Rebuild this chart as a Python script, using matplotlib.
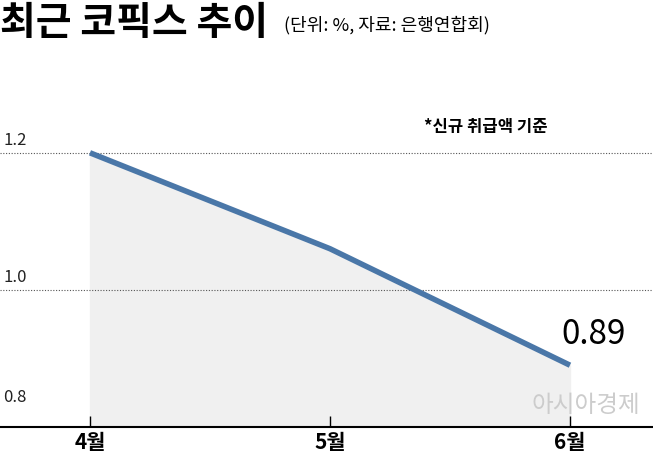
import matplotlib.pyplot as plt

plt.rcParams['font.family'] = ['Noto Sans CJK KR', 'DejaVu Sans']

months = ['4월', '5월', '6월']
rates = [1.20, 1.06, 0.89]
yticks = [0.8, 1.0, 1.2]

fig = plt.figure(figsize=(6.53, 4.63), dpi=100)
ax = fig.add_axes([0, 0.078, 1, 0.663])
x = list(range(len(months)))
ax.set_xlim(-0.375, 2.346)
ax.set_ylim(0.8, 1.248)

ax.fill_between(x, rates, 0.8, color='#f0f0f0', zorder=1)
ax.plot(x, rates, color='#4a77a8', linewidth=4, solid_capstyle='butt', zorder=3)
for v in yticks[1:]:
    ax.axhline(v, color='#555555', linewidth=0.8, linestyle=(0, (1, 1.5)), zorder=2)

for s in ['top', 'right', 'left']:
    ax.spines[s].set_visible(False)
ax.spines['bottom'].set_linewidth(1.5)
ax.set_yticks([])
ax.set_xticks(x)
ax.set_xticklabels(months, fontsize=15, fontweight='bold')
ax.tick_params(axis='x', direction='in', length=8, width=1, pad=4)

for v in yticks:
    ax.text(0.005, v + (0.03 if v == 0.8 else 0.005), f'{v:.1f}', transform=ax.get_yaxis_transform(),
            fontsize=12, va='bottom', ha='left', color='#222222')

ax.text(2.1, rates[-1] + 0.02, f'{rates[-1]:.2f}', fontsize=24, ha='center', va='bottom')
ax.text(0.65, 1.225, '*신규 취급액 기준', transform=ax.get_yaxis_transform(),
        fontsize=12, fontweight='bold', ha='left', va='bottom')
ax.text(0.98, 0.815, '아시아경제', transform=ax.get_yaxis_transform(),
        fontsize=17, ha='right', va='bottom', color='#cccccc', zorder=4)

fig.text(0.0, 0.95, '최근 코픽스 추이', fontsize=28, fontweight='bold', va='center')
fig.text(0.435, 0.945, '(단위: %, 자료: 은행연합회)', fontsize=13, va='center')

fig.savefig('out.png', dpi=100)
